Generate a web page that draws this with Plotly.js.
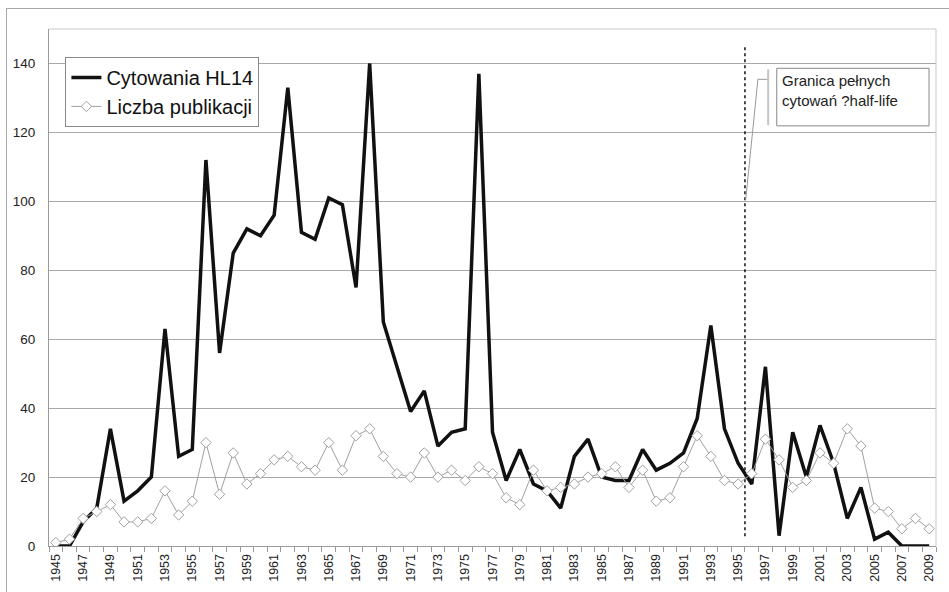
<!DOCTYPE html>
<html>
<head>
<meta charset="utf-8">
<script src="https://cdn.plot.ly/plotly-3.0.1.min.js"></script>
<style>
html,body{margin:0;padding:0;background:#fff;overflow:hidden;}
#frame{position:absolute;left:6px;top:8px;width:1000px;height:700px;border:1px solid #a8a8a8;box-sizing:border-box;}
#chart{position:absolute;left:0;top:0;width:949px;height:592px;}
</style>
</head>
<body>
<div id="frame"></div>
<div id="chart"></div>
<script>
const years = [];
for (let y = 1945; y <= 2009; y++) years.push(y);

const cytowania = [
  0, 0, 7, 11, 34, 13, 16, 20, 63, 26,
  28, 112, 56, 85, 92, 90, 96, 133, 91, 89,
  101, 99, 75, 140, 65, 52, 39, 45, 29, 33,
  34, 137, 33, 19, 28, 18, 16, 11, 26, 31,
  20, 19, 19, 28, 22, 24, 27, 37, 64, 34,
  24, 18, 52, 3, 33, 20, 35, 24, 8, 17,
  2, 4, 0, 0, 0
];

const publikacje = [
  1, 2, 8, 10, 12, 7, 7, 8, 16, 9,
  13, 30, 15, 27, 18, 21, 25, 26, 23, 22,
  30, 22, 32, 34, 26, 21, 20, 27, 20, 22,
  19, 23, 21, 14, 12, 22, 16, 17, 18, 20,
  21, 23, 17, 22, 13, 14, 23, 32, 26, 19,
  18, 21, 31, 25, 17, 19, 27, 24, 34, 29,
  11, 10, 5, 8, 5
];

const tickYears = years.filter(y => y % 2 === 1);
const tickLabels = tickYears.map(String);
const yTicks = [0, 20, 40, 60, 80, 100, 120, 140];

const seriesNames = ['Cytowania HL14', 'Liczba publikacji'];
const calloutText = 'Granica pełnych<br>cytowań ?half-life';

const FONT = 'Arial, "Liberation Sans", sans-serif';

const traces = [
  {
    x: years, y: cytowania, name: seriesNames[0], type: 'scatter', mode: 'lines',
    line: {color: '#111111', width: 3.5}
  },
  {
    x: years, y: publikacje, name: seriesNames[1], type: 'scatter', mode: 'lines+markers',
    line: {color: '#a0a0a0', width: 1},
    marker: {symbol: 'diamond', size: 8, color: '#ffffff', line: {color: '#a0a0a0', width: 1}}
  }
];

const layout = {
  width: 949, height: 592,
  margin: {l: 49, r: 13, t: 29, b: 46, pad: 0},
  paper_bgcolor: 'rgba(0,0,0,0)',
  plot_bgcolor: '#ffffff',
  font: {family: FONT, color: '#222222', size: 12},
  showlegend: true,
  legend: {
    x: 0.0185, y: 0.946, xanchor: 'left', yanchor: 'top',
    bgcolor: '#ffffff', bordercolor: '#888888', borderwidth: 1,
    font: {family: FONT, size: 20, color: '#111111'},
    tracegroupgap: 0, itemwidth: 30
  },
  xaxis: {
    range: [1944.5, 2009.5],
    tickmode: 'array', tickvals: tickYears, ticktext: tickLabels,
    tickangle: -90, ticks: '', showgrid: false, zeroline: false,
    tickfont: {family: FONT, size: 12.5, color: '#222222'},
    showline: true, linecolor: '#999999', linewidth: 1, mirror: false,
    minor: {tick0: 1944.5, dtick: 1, ticks: 'outside', ticklen: 5, tickcolor: '#999999', tickwidth: 1, showgrid: false},
    ticklabelstandoff: 2
  },
  yaxis: {
    range: [0, 150],
    tickmode: 'array', tickvals: yTicks,
    ticks: '', showgrid: true, gridcolor: '#a8a8a8', gridwidth: 1, zeroline: false,
    tickfont: {family: FONT, size: 13.5, color: '#222222'},
    showline: true, linecolor: '#999999', linewidth: 1,
    ticklabelstandoff: 10
  },
  shapes: [
    {type: 'line', xref: 'paper', yref: 'paper', x0: 0, x1: 1, y0: 1, y1: 1, line: {color: '#c8c8c8', width: 1}},
    {type: 'line', xref: 'paper', yref: 'paper', x0: 1, x1: 1, y0: 0, y1: 1, line: {color: '#c8c8c8', width: 1}},
    {type: 'line', xref: 'x', yref: 'y', x0: 1995.5, x1: 1995.5, y0: 2.8, y1: 145.5, line: {color: '#111111', width: 1.5, dash: 'dot'}},
    {type: 'line', xref: 'x', yref: 'y', x0: 1995.55, x1: 1996.45, y0: 100.3, y1: 135.4, line: {color: '#999999', width: 1}},
    {type: 'line', xref: 'x', yref: 'y', x0: 1996.45, x1: 1997.2, y0: 135.4, y1: 135.4, line: {color: '#999999', width: 1}},
    {type: 'line', xref: 'x', yref: 'y', x0: 1997.2, x1: 1997.2, y0: 122.1, y1: 138.3, line: {color: '#c4c4c4', width: 2}},
    {type: 'rect', xref: 'x', yref: 'y', x0: 1997.83, x1: 2008.99, y0: 121.9, y1: 138.6, fillcolor: '#ffffff', line: {color: '#888888', width: 1}}
  ],
  annotations: [
    {xref: 'x', yref: 'y', x: 1998.1, y: 138.2, xanchor: 'left', yanchor: 'top', align: 'left',
     showarrow: false, text: calloutText, font: {family: FONT, size: 15, color: '#222222'}}
  ]
};

Plotly.newPlot('chart', traces, layout, {displayModeBar: false, staticPlot: true});
</script>
</body>
</html>
